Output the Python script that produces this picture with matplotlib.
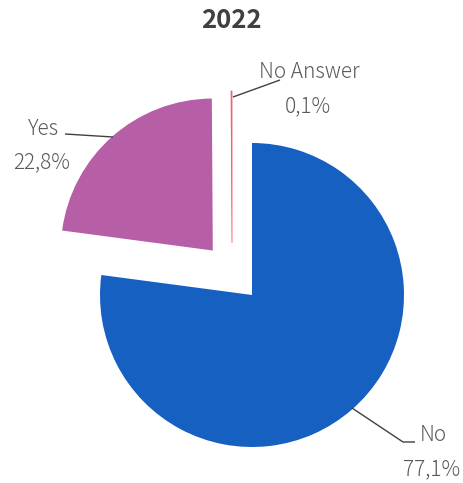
import matplotlib
matplotlib.use("Agg")
import matplotlib.pyplot as plt

# Survey answers for 2022
categories = ["No", "Yes", "No Answer"]
shares = [77.1, 22.8, 0.1]
value_labels = ["77,1%", "22,8%", "0,1%"]
colors = ["#1560c0", "#b75fa6", "#f0636b"]

W, H = 464, 483
R_PX = 152.0
CX, CY = 252.0, 295.0  # pie centre in pixels (from top-left)

fig = plt.figure(figsize=(W / 100, H / 100), dpi=100)
ax = fig.add_axes([0, 0, 1, 1])


def px(x, y):
    """Pixel position (top-left origin) -> data coordinates."""
    return (x - CX) / R_PX, (CY - y) / R_PX


wedges, _ = ax.pie(shares, colors=colors, startangle=90, counterclock=False,
                   radius=1.0, explode=[0, 0.39, 0],
                   wedgeprops=dict(linewidth=0))
# the tiny slice is pulled out separately, up and to the left
wedges[2].set_center(px(232, 243))
wedges[2].set_edgecolor(colors[2])
wedges[2].set_linewidth(0.6)

ax.set_xlim(-CX / R_PX, (W - CX) / R_PX)
ax.set_ylim(-(H - CY) / R_PX, CY / R_PX)
ax.set_aspect("auto")
ax.axis("off")

font = ["Noto Sans CJK JP", "DejaVu Sans"]
tc = "#595959"
lc = "#404040"

# leader lines
def leader(points):
    xs, ys = zip(*[px(*p) for p in points])
    ax.plot(xs, ys, color=lc, lw=1.0, solid_capstyle="butt")

leader([(233, 97), (280, 80)])
leader([(113, 137), (65, 134)])
leader([(352, 408), (403, 442), (415, 442)])

label_pos = {
    "No": ((433, 435), (432, 469)),
    "Yes": ((43, 129), (42, 162)),
    "No Answer": ((309, 72), (308, 106)),
}
for cat, val in zip(categories, value_labels):
    (nx, ny), (vx, vy) = label_pos[cat]
    ax.text(*px(nx, ny), cat, ha="center", va="center", fontsize=15,
            color=tc, family=font, fontweight="light")
    ax.text(*px(vx, vy), val, ha="center", va="center", fontsize=15,
            color=tc, family=font, fontweight="light")

ax.text(*px(231, 20), "2022", ha="center", va="center", fontsize=18.5,
        fontweight="bold", color="#404040", family=font)

fig.savefig("out.png", dpi=100)
